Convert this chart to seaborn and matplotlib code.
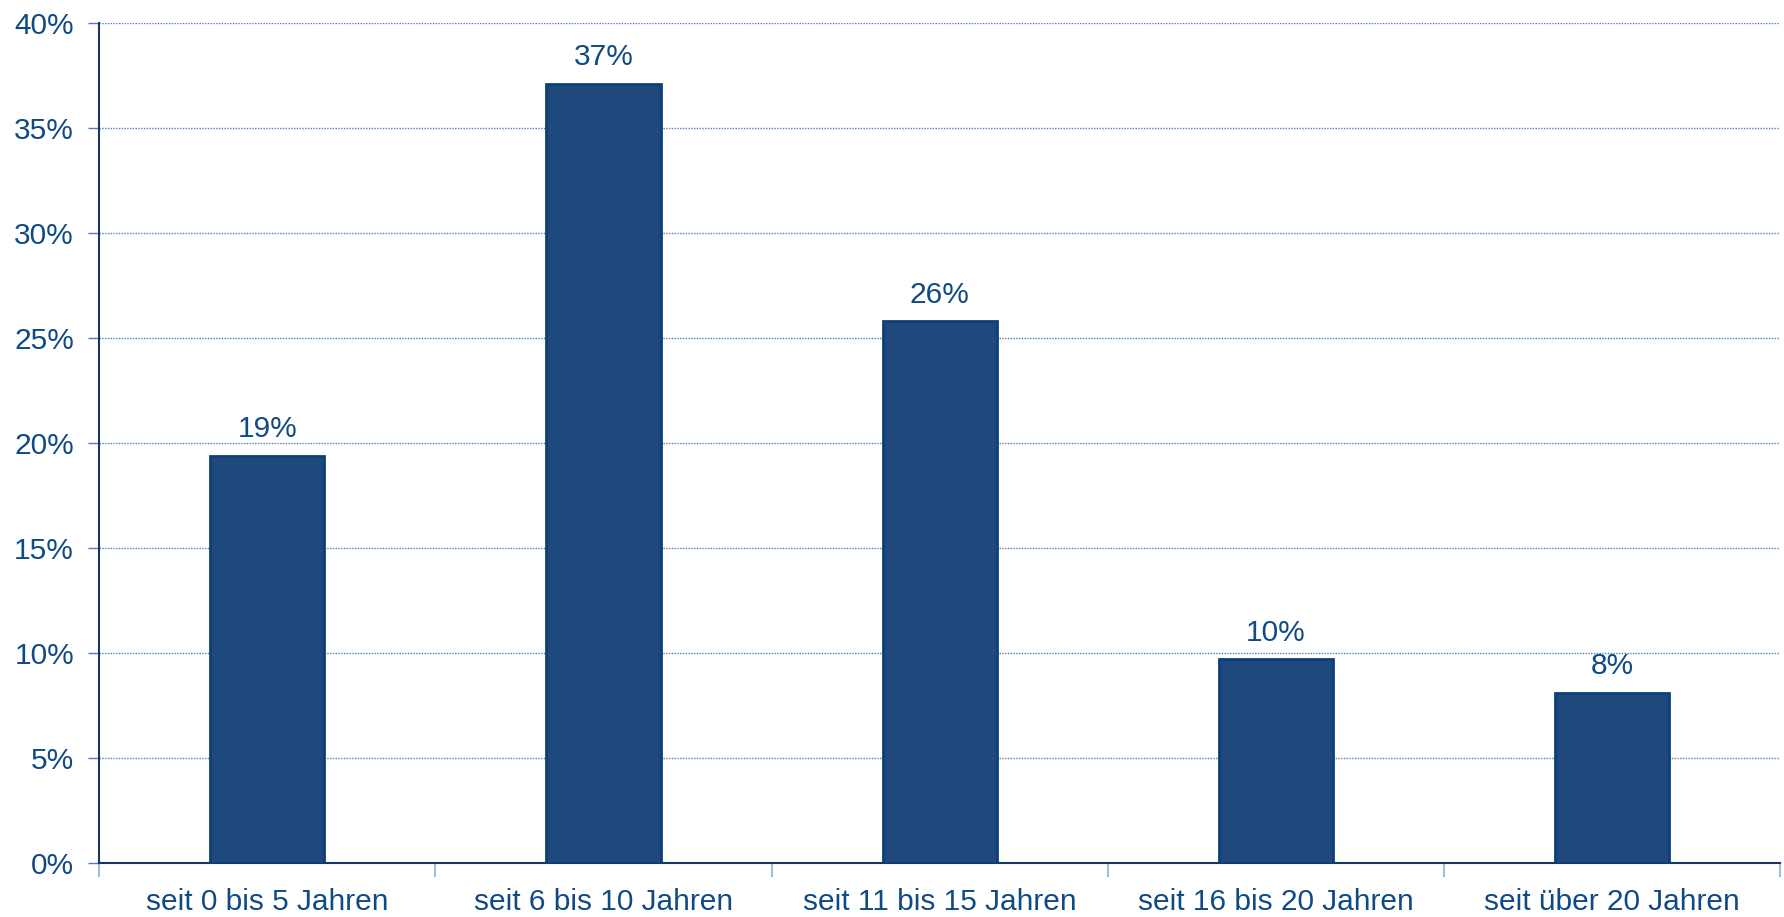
import matplotlib
matplotlib.use("Agg")
import matplotlib.pyplot as plt
import numpy as np
import pandas as pd
import seaborn as sns
from matplotlib.ticker import FixedLocator, PercentFormatter

# Daten
categories = ["seit 0 bis 5 Jahren", "seit 6 bis 10 Jahren", "seit 11 bis 15 Jahren",
              "seit 16 bis 20 Jahren", "seit über 20 Jahren"]
values = [19.4, 37.1, 25.8, 9.7, 8.1]
value_labels = ["19%", "37%", "26%", "10%", "8%"]
y_ticks = [0, 5, 10, 15, 20, 25, 30, 35, 40]

BAR_COLOR = "#1F497D"
EDGE_COLOR = "#0E3F78"
TEXT_COLOR = "#0F4A85"
GRID_COLOR = "#4F7FB5"
SPINE_COLOR = "#17375E"
FS = 21.5

sns.set_theme(style="white")
plt.rcParams["font.family"] = ["Liberation Sans", "DejaVu Sans"]

df = pd.DataFrame({"kategorie": categories, "anteil": values})

fig = plt.figure(figsize=(17.84, 9.17), dpi=100)
ax = fig.add_axes([0.0555, 0.059, 0.9425, 0.916])

sns.barplot(data=df, x="kategorie", y="anteil", color=BAR_COLOR, width=0.34,
            saturation=1, edgecolor=EDGE_COLOR, linewidth=2, ax=ax, zorder=3)

for i, (v, lab) in enumerate(zip(values, value_labels)):
    ax.text(i, v + 0.6, lab, ha="center", va="bottom", fontsize=FS, color=TEXT_COLOR)

ax.set_xlim(-0.5, 4.5)
ax.set_ylim(0, 40)
ax.set_yticks(y_ticks)
ax.yaxis.set_major_formatter(PercentFormatter(decimals=0))
ax.set_xlabel("")
ax.set_ylabel("")

ax.grid(axis="y", color=GRID_COLOR, linestyle=(0, (1, 1)), linewidth=1, zorder=0)
ax.grid(axis="x", visible=False)

for side in ["top", "right"]:
    ax.spines[side].set_visible(False)
for side in ["left", "bottom"]:
    ax.spines[side].set_color(SPINE_COLOR)
    ax.spines[side].set_linewidth(1.5)

ax.tick_params(axis="y", which="major", length=8, color=GRID_COLOR, width=1,
               labelsize=FS, labelcolor=TEXT_COLOR, pad=10, left=True)
ax.tick_params(axis="x", which="major", length=0, labelsize=FS,
               labelcolor=TEXT_COLOR, pad=18)
ax.xaxis.set_minor_locator(FixedLocator(np.arange(-0.5, 5, 1.0)))
ax.tick_params(axis="x", which="minor", length=10, color="#A9BCD3", width=1.5, bottom=True)

fig.savefig("out.png", dpi=100, facecolor="white")
